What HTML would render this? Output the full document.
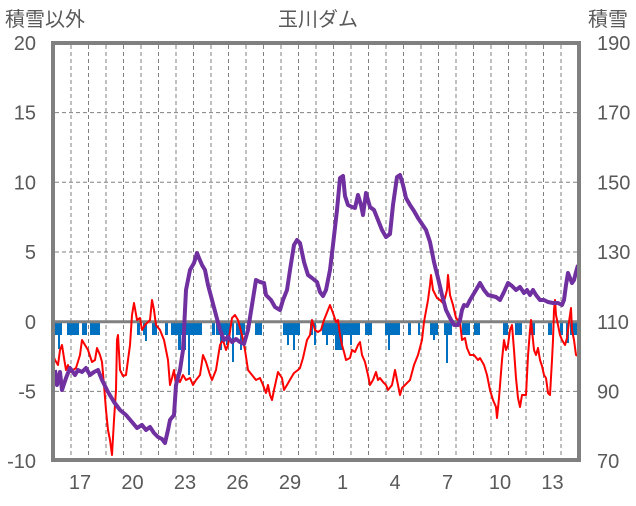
<!DOCTYPE html>
<html><head><meta charset="utf-8"><style>
body{margin:0;background:#fff;}
svg text{font-family:"Liberation Sans","Noto Sans CJK JP",sans-serif;fill:#595959;font-size:20px;}
</style></head><body>
<svg id="s" width="636" height="501" xmlns="http://www.w3.org/2000/svg">
<rect width="636" height="501" fill="#fff"/>
<g id="grid" stroke="#808080" stroke-width="1" stroke-dasharray="4,3"></g>
<g id="bars" fill="#0070C0"></g>
<line x1="53" y1="321.7" x2="579" y2="321.7" stroke="#808080" stroke-width="3"/>
<polyline id="red" fill="none" stroke="#FF0000" stroke-width="2" stroke-linejoin="round"/>
<polyline id="pur" fill="none" stroke="#7030A0" stroke-width="4" stroke-linejoin="round"/>
<rect x="53" y="43" width="526" height="417" fill="none" stroke="#808080" stroke-width="4"/>
<text x="5" y="26">積雪以外</text>
<text x="318" y="26" text-anchor="middle">玉川ダム</text>
<text x="588" y="26">積雪</text>
<g id="lab"></g>
</svg>
<script>
var ns="http://www.w3.org/2000/svg";
function el(t,a,p,txt){var e=document.createElementNS(ns,t);for(var k in a)e.setAttribute(k,a[k]);if(txt)e.textContent=txt;document.getElementById(p).appendChild(e);}
for(var i=0;i<29;i++){var x=71+i*17.5;el("line",{x1:x,y1:45,x2:x,y2:458},"grid");}
[15,10,5,-5].forEach(function(v){var y=321.7-v*13.94;el("line",{x1:55,y1:y,x2:577,y2:y},"grid");});
var L=["20","15","10","5","0","-5","-10"],R=["190","170","150","130","110","90","70"];
for(var i=0;i<7;i++){var y=43+i*69.7+7;el("text",{x:36,y:y,"text-anchor":"end"},"lab",L[i]);el("text",{x:597,y:y},"lab",R[i]);}
["17","20","23","26","29","1","4","7","10","13"].forEach(function(t,i){el("text",{x:80+i*52.5,y:489,"text-anchor":"middle"},"lab",t);});
var bars=[[54,8,335],[58,2,349],[67,12,335],[82,5,335],[90,10,335],[137,3,335],[143,4,335],[145,2,341],[152,5,335],[165,3,335],[171,31,335],[178,3,350],[183,3,350],[188,2,375],[212,3,335],[216,14,335],[220,2,350],[226,2,345],[232,2,362],[236,9,335],[240,2,350],[255,7,335],[283,17,335],[287,2,345],[293,2,350],[310,3,335],[314,2,345],[322,38,335],[326,2,345],[335,8,350],[350,2,345],[365,7,335],[385,15,335],[388,2,350],[408,3,335],[418,2,335],[430,8,335],[433,2,340],[444,8,335],[446,2,363],[462,8,335],[474,6,335],[503,5,335],[515,7,335],[530,5,335],[548,4,335],[560,3,335],[566,3,343],[570,9,335],[575,3,335]];
bars.forEach(function(b){el("rect",{x:b[0],y:323,width:b[1],height:b[2]-323},"bars");});
var pur=[55,370,57,385,60,372,62,390,66,378,70,368,75,375,78,370,82,372,86,368,90,375,94,372,98,370,102,380,108,392,114,402,120,410,126,415,132,422,137,428,142,425,146,430,150,427,154,433,158,437,162,439,165,443,168,430,170,420,174,415,176,385,180,370,183,350,186,290,190,270,194,263,197,253,199,258,202,265,205,270,208,285,212,300,216,315,220,330,224,340,228,337,232,342,236,339,240,342,244,344,248,330,252,305,256,280,260,282,264,283,266,295,271,300,275,307,280,310,283,300,287,290,290,270,294,245,297,240,300,243,304,262,308,275,312,278,317,282,320,292,323,296,326,290,330,270,333,245,337,210,340,178,343,176,345,196,348,205,352,207,355,208,358,195,361,205,363,215,366,193,370,207,374,210,378,220,382,230,386,237,390,234,393,205,397,177,400,175,403,185,406,198,410,205,414,211,418,218,422,224,426,230,430,242,434,262,438,278,442,295,446,310,450,318,454,325,458,325,460,320,462,310,464,305,467,306,470,300,473,295,476,290,480,283,484,290,488,295,492,296,496,297,500,300,504,292,508,283,512,286,516,290,520,287,524,293,527,290,530,295,533,290,536,295,540,300,544,300,548,302,553,303,558,303,562,305,564,300,566,285,568,273,570,278,572,283,574,280,576,272,578,265];
var red=[53,355,55,360,58,365,60,350,62,345,64,358,66,370,68,365,70,372,73,370,76,368,80,355,82,340,85,345,88,350,92,362,95,360,97,348,100,355,102,362,104,385,106,410,108,430,110,440,112,455,114,420,116,390,117,340,118,335,120,370,123,376,126,375,130,345,132,315,134,303,137,320,140,318,142,330,145,325,150,320,152,300,154,310,156,325,160,330,164,340,168,360,170,385,172,378,174,370,176,385,178,378,180,382,183,375,186,380,190,378,193,385,196,380,200,375,203,355,206,362,210,375,212,380,216,370,220,345,223,340,226,350,228,345,232,318,235,315,238,320,242,335,245,350,248,370,252,375,256,380,260,378,263,385,266,393,268,385,270,395,272,400,274,390,278,372,282,378,284,390,287,385,291,378,294,373,298,370,300,368,303,358,307,340,310,335,312,320,315,330,318,332,321,330,324,320,328,310,330,305,333,313,336,322,338,320,340,335,342,345,344,352,346,360,350,358,352,350,355,352,358,345,360,342,362,355,365,362,368,375,370,385,373,380,376,372,378,380,380,378,383,382,386,385,388,390,392,385,395,370,397,380,400,395,402,388,405,385,410,380,414,365,418,355,422,340,424,322,428,300,430,285,431,275,433,290,437,298,440,300,443,303,445,298,447,290,448,275,450,295,453,305,456,318,460,322,462,340,465,338,467,348,470,355,474,355,478,360,480,358,484,365,487,375,490,390,493,400,496,407,497,418,499,398,502,360,504,340,506,350,508,345,510,330,512,325,514,350,516,378,518,398,520,407,522,395,526,395,528,356,530,330,531,320,534,350,536,355,538,348,540,360,542,366,544,375,546,378,548,393,550,395,552,360,553,340,554,310,555,300,556,315,560,335,562,340,565,345,567,338,569,322,571,308,572,330,574,340,576,355,578,356];
document.getElementById("pur").setAttribute("points",pur.join(" "));
document.getElementById("red").setAttribute("points",red.join(" "));
</script>
</body></html>
